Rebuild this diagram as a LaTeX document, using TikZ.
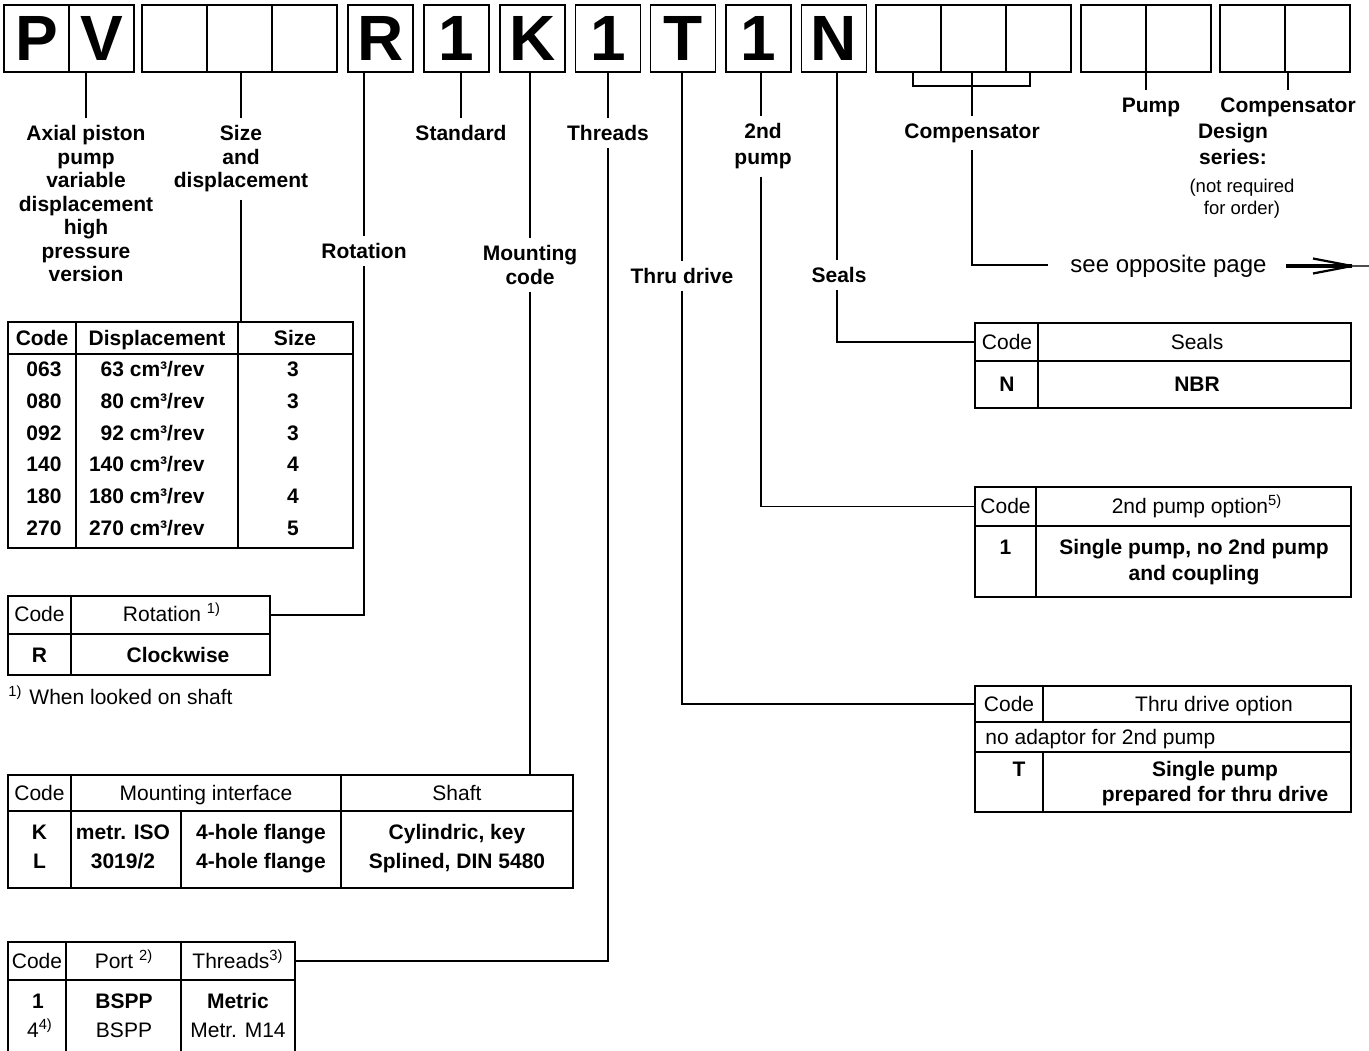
\documentclass[tikz,border=0pt]{standalone}
\usepackage{fontspec}
\setmainfont{Liberation Sans}
\begin{document}
\begin{tikzpicture}[x=0.5pt,y=-0.5pt,
  lbox/.style={draw, line width=0.6pt, minimum width=32.5pt, minimum height=33.5pt, inner sep=0pt, outer sep=0pt, font=\fontsize{32}{34}\selectfont\bfseries},
  lbl/.style={font=\fontsize{10.5}{11.75}\selectfont\bfseries, align=center, inner sep=3.5pt, anchor=north},
  lblw/.style={lbl, font=\fontsize{10.5}{13}\selectfont\bfseries},
  txt/.style={font=\fontsize{10.5}{12}\selectfont, inner sep=0pt, anchor=base},
  btxt/.style={txt, font=\fontsize{10.5}{12}\selectfont\bfseries},
  tbl/.style={draw, line width=0.6pt, inner sep=0pt, outer sep=0pt},
  conn/.style={line width=0.6pt},
  rule/.style={line width=0.6pt}]
\useasboundingbox (0,0) rectangle (1369,1050);

% ---- code boxes
\node[lbox] (bP) at (36.5,38.5) {P};
\node[lbox] (bV) at (101.5,38.5) {V};
\node[lbox] (bE1) at (174.5,38.5) {};
\node[lbox] (bE2) at (239.5,38.5) {};
\node[lbox] (bE3) at (304.5,38.5) {};
\node[lbox] (bR) at (380.5,38.5) {R};
\node[lbox] (b1a) at (456.5,38.5) {1};
\node[lbox] (bK) at (532.5,38.5) {K};
\node[lbox] (b1b) at (608,38.5) {1};
\node[lbox] (bT) at (683,38.5) {T};
\node[lbox] (b1c) at (758.5,38.5) {1};
\node[lbox] (bN) at (834,38.5) {N};
\node[lbox] (bC1) at (908.5,38.5) {};
\node[lbox] (bC2) at (973.5,38.5) {};
\node[lbox] (bC3) at (1038.5,38.5) {};
\node[lbox] (bPu1) at (1113.5,38.5) {};
\node[lbox] (bPu2) at (1178.5,38.5) {};
\node[lbox] (bD1) at (1252.5,38.5) {};
\node[lbox] (bD2) at (1317.5,38.5) {};

% ---- labels
\node[lbl] (lAxial) at (86,118.2) {Axial piston\\pump\\variable\\displacement\\high\\pressure\\version};
\node[lbl] (lSize) at (241,118.2) {Size\\and\\displacement};
\node[lbl] (lStd) at (461,118.2) {Standard};
\node[lbl] (lThr) at (608,118.2) {Threads};
\node[lbl] (lRot) at (364,236.2) {Rotation};
\node[lbl] (lMnt) at (530,238.2) {Mounting\\code};
\node[lbl] (lThru) at (682,261.2) {Thru drive};
\node[lblw] (l2nd) at (763,116.2) {2nd\\pump};
\node[lbl] (lSeal) at (839,260.2) {Seals};
\node[lbl] (lComp) at (972,116.2) {Compensator};
\node[lbl] (lPump) at (1151,90.2) {Pump};
\node[lbl] (lComp2) at (1288,90.2) {Compensator};
\node[lblw] (lDesign) at (1233,116.2) {Design\\series:};
\node[font=\fontsize{9.25}{11}\selectfont, align=center, inner sep=0pt, anchor=north] (lNote) at (1242,179) {(not required\\for order)};
\node[font=\fontsize{12}{14}\selectfont, inner sep=0pt, anchor=base west] (see) at (1070,272.6) {see opposite page};
\coordinate (seeL) at (1048,265);

% ---- size table
\node[tbl, line width=1.25pt, minimum width=172.5pt, minimum height=113pt] (tSize) at (180.5,435) {};
\draw[line width=1pt] (8,354) -- (353,354);
\draw[rule] (76,322) -- (76,548) (238,322) -- (238,548);
\node[btxt] at (42,345.5) {Code};
\node[btxt] at (157,345.5) {Displacement};
\node[btxt] at (295,345.5) {Size};
\foreach \y/\c/\d/\s in {376.5/063/63/3, 408.5/080/80/3, 440.5/092/92/3, 471.5/140/140/4, 503.5/180/180/4, 535.5/270/270/5}{
  \node[btxt] at (44,\y) {\c};
  \node[btxt, anchor=base east] at (205,\y) {\d\ cm³/rev};
  \node[btxt] at (293,\y) {\s};
}

% ---- rotation table
\node[tbl, minimum width=131pt, minimum height=39.5pt] (tRot) at (139,635.5) {};
\draw[rule] (71,596) -- (71,675) (8,634) -- (270,634);
\coordinate (tRotH) at (270,615);
\node[txt] at (39.5,621.5) {Code};
\node[txt] at (172,621.5) {Rotation \textsuperscript{1)}};
\node[btxt] at (39.5,662.5) {R};
\node[btxt] at (178,662.5) {Clockwise};
\node[txt, anchor=base west] (fn1) at (8,704.5) {\textsuperscript{1)}\hspace{3.5pt}When looked on shaft};

% ---- mounting table
\node[tbl, minimum width=282.5pt, minimum height=56.5pt] (tMnt) at (290.5,831.5) {};
\draw[rule] (8,811) -- (573,811) (71,775) -- (71,888) (341,775) -- (341,888) (181,811) -- (181,888);
\node[txt] at (39.5,800.5) {Code};
\node[txt] at (206,800.5) {Mounting interface};
\node[txt] at (457,800.5) {Shaft};
\node[btxt] at (39.5,839.5) {K};
\node[btxt] at (39.5,868.5) {L};
\node[btxt] at (123,839.5) {metr. ISO};
\node[btxt] at (123,868.5) {3019/2};
\node[btxt] at (261,839.5) {4-hole flange};
\node[btxt] at (261,868.5) {4-hole flange};
\node[btxt] at (457,839.5) {Cylindric, key};
\node[btxt] at (457,868.5) {Splined, DIN 5480};

% ---- threads table
\draw[rule] (8,1052) -- (8,942) -- (295,942) -- (295,1052);
\draw[rule] (8,980) -- (295,980) (66,942) -- (66,1052) (181,942) -- (181,1052);
\coordinate (tThrH) at (295,961);
\node[txt] at (37,968.5) {Code};
\node[txt] at (124,968.5) {Port \textsuperscript{2)}};
\node[txt] at (238,968.5) {Threads\textsuperscript{3)}};
\node[btxt] at (38,1008.5) {1};
\node[btxt] at (124,1008.5) {BSPP};
\node[btxt] at (238,1008.5) {Metric};
\node[txt] at (40,1037.5) {4\textsuperscript{4)}};
\node[txt] at (124,1037.5) {BSPP};
\node[txt] at (238,1037.5) {Metr. M14};

% ---- seals table
\node[tbl, minimum width=188pt, minimum height=42.5pt] (tSeal) at (1163,365.5) {};
\draw[rule] (1038,323) -- (1038,408) (975,361) -- (1351,361);
\coordinate (tSealH) at (975,342);
\node[txt] at (1007,349.5) {Code};
\node[txt] at (1197,349.5) {Seals};
\node[btxt] at (1007,391.5) {N};
\node[btxt] at (1197,391.5) {NBR};

% ---- 2nd pump table
\node[tbl, minimum width=188pt, minimum height=55pt] (t2nd) at (1163,542) {};
\draw[rule] (1036,487) -- (1036,597) (975,526) -- (1351,526);
\coordinate (t2ndH) at (975,506.5);
\node[txt] at (1005.5,513.5) {Code};
\node[txt] at (1197,513.5) {2nd pump option\textsuperscript{5)}};
\node[btxt] at (1005.5,554.5) {1};
\node[btxt] at (1194,554.5) {Single pump, no 2nd pump};
\node[btxt] at (1194,580.5) {and coupling};

% ---- thru drive table
\node[tbl, minimum width=188pt, minimum height=63pt] (tThru) at (1163,749) {};
\draw[rule] (975,722) -- (1351,722) (975,752) -- (1351,752) (1043,686) -- (1043,722) (1043,752) -- (1043,812);
\coordinate (tThruH) at (975,704);
\node[txt] at (1009,711.5) {Code};
\node[txt] at (1214,711.5) {Thru drive option};
\node[txt, anchor=base west] at (985,744.5) {no adaptor for 2nd pump};
\node[btxt] at (1019,776.5) {T};
\node[btxt] at (1215,776.5) {Single pump};
\node[btxt] at (1215,801.5) {prepared for thru drive};

% ---- connectors
\draw[conn] (lAxial.north |- bV.south) -- (lAxial.north);
\draw[conn] (lSize.north |- bE2.south) -- (lSize.north);
\draw[conn] (lSize.south) -- (lSize.south |- tSize.north);
\draw[conn] (lRot.north |- bR.south) -- (lRot.north);
\draw[conn] (lRot.south) |- (tRotH);
\draw[conn] (lStd.north |- b1a.south) -- (lStd.north);
\draw[conn] (lMnt.north |- bK.south) -- (lMnt.north);
\draw[conn] (lMnt.south) -- (lMnt.south |- tMnt.north);
\draw[conn] (lThr.north |- b1b.south) -- (lThr.north);
\draw[conn] (lThr.south) |- (tThrH);
\draw[conn] (lThru.north |- bT.south) -- (lThru.north);
\draw[conn] (lThru.south) |- (tThruH);
\draw[conn] ([xshift=-1pt]l2nd.north |- b1c.south) -- ([xshift=-1pt]l2nd.north);
\draw[conn] ([xshift=-1pt]l2nd.south) |- (t2ndH);
\draw[conn] ([xshift=-1pt]lSeal.north |- bN.south) -- ([xshift=-1pt]lSeal.north);
\draw[conn] ([xshift=-1pt]lSeal.south) |- (tSealH);
\draw[conn] (913,72) -- (913,86) -- (1030,86) -- (1030,72);
\draw[conn] (lComp.north |- bC2.south) -- (lComp.north);
\draw[conn] (lComp.south) |- (seeL);
\draw[conn] (bPu1.south east) -- (bPu1.south east |- lPump.north);
\draw[conn] (lComp2.north |- bD1.south) -- (lComp2.north);
% arrow
\coordinate (arA) at (1286,266);
\coordinate (arT) at (1352,266);
\coordinate (arE) at (1369,266);
\draw[line width=1.6pt] (arA) -- (arT);
\draw[line width=1.1pt, line join=miter] (1313,258.5) -- (arT) -- (1313,273.5);
\draw[line width=0.7pt, black!70] (arT) -- (arE);
\end{tikzpicture}
\end{document}
